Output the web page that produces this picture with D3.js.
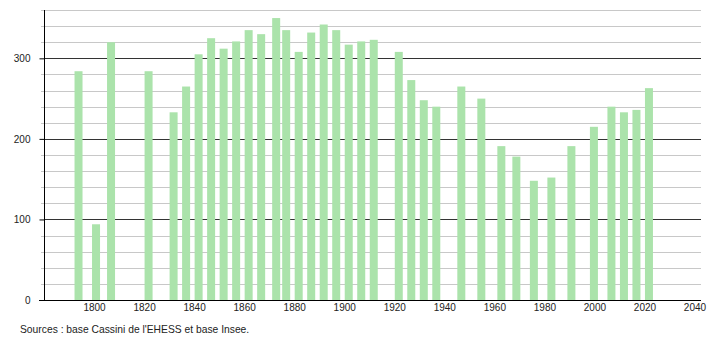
<!DOCTYPE html>
<html>
<head>
<meta charset="utf-8">
<script src="https://cdn.jsdelivr.net/npm/d3@7"></script>
<style>
  body { margin: 0; background: #fff; }
  svg { display: block; font-family: "Liberation Sans", Arial, sans-serif; }
  .axis text { font-size: 10px; fill: #222; }
</style>
</head>
<body>
<div id="chart"></div>
<script>
// census years and population
const years = [1793, 1800, 1806, 1821, 1831, 1836, 1841, 1846, 1851, 1856, 1861, 1866,
    1872, 1876, 1881, 1886, 1891, 1896, 1901, 1906, 1911, 1921, 1926, 1931, 1936,
    1946, 1954, 1962, 1968, 1975, 1982, 1990, 1999, 2006, 2011, 2016, 2021];
const population = [284, 94, 320, 284, 233, 265, 305, 325, 312, 321, 335, 330,
    350, 335, 308, 332, 342, 335, 317, 321, 323, 308, 273, 248, 240,
    265, 250, 191, 178, 148, 152, 191, 215, 240, 233, 236, 263];
const xTicks = [1800, 1820, 1840, 1860, 1880, 1900, 1920, 1940, 1960, 1980, 2000, 2020, 2040];
const yMajor = [0, 100, 200, 300];
const yMinor = d3.range(20, 361, 20);
const source = "Sources : base Cassini de l'EHESS et base Insee.";

const width = 710, height = 340;
const m = { left: 44, right: 701, top: 10, bottom: 300 };

const svg = d3.select('#chart').append('svg')
    .attr('width', width)
    .attr('height', height);

const x = d3.scaleLinear().domain([1780, 2042.6]).range([m.left, m.right]);
const y = d3.scaleLinear().domain([0, 360]).range([m.bottom, m.top]);

// minor grid
svg.append('g')
    .selectAll('line')
    .data(yMinor.filter(v => v % 100 !== 0))
    .join('line')
    .attr('x1', m.left - 3).attr('x2', m.right)
    .attr('y1', d => Math.round(y(d)) + 0.5)
    .attr('y2', d => Math.round(y(d)) + 0.5)
    .attr('stroke', '#c8c8c8')
    .attr('stroke-width', 1);

// major grid
svg.append('g')
    .selectAll('line')
    .data(yMajor.filter(v => v > 0))
    .join('line')
    .attr('x1', m.left).attr('x2', m.right)
    .attr('y1', d => Math.round(y(d)) + 0.5)
    .attr('y2', d => Math.round(y(d)) + 0.5)
    .attr('stroke', '#333')
    .attr('stroke-width', 1);

// bars
const barW = 8;
svg.append('g')
    .selectAll('rect')
    .data(years)
    .join('rect')
    .attr('x', (d, i) => x(d) + 2 - barW / 2)
    .attr('y', (d, i) => y(population[i]))
    .attr('width', barW)
    .attr('height', (d, i) => m.bottom - y(population[i]))
    .attr('fill', '#abe3ab');

// y axis
const yAxis = svg.append('g')
    .attr('class', 'axis')
    .attr('transform', `translate(${m.left + 0.5},0)`)
    .call(d3.axisLeft(y).tickValues(yMajor).tickSize(5).tickPadding(9));
yAxis.select('.domain').attr('stroke', '#000').attr('d', `M0,${m.top}V${m.bottom}`);
yAxis.selectAll('.tick line').attr('stroke', '#000');

// x axis
const xAxis = svg.append('g')
    .attr('class', 'axis')
    .attr('transform', `translate(0,${m.bottom + 0.5})`)
    .call(d3.axisBottom(x).tickValues(xTicks).tickFormat(d3.format('d')).tickSize(0).tickPadding(3));
xAxis.select('.domain').attr('stroke', '#000').attr('d', `M${m.left - 5},0H${m.right}`);

svg.append('text')
    .attr('x', 20)
    .attr('y', 333)
    .attr('font-size', 10.3)
    .attr('fill', '#222')
    .text(source);
</script>
</body>
</html>
